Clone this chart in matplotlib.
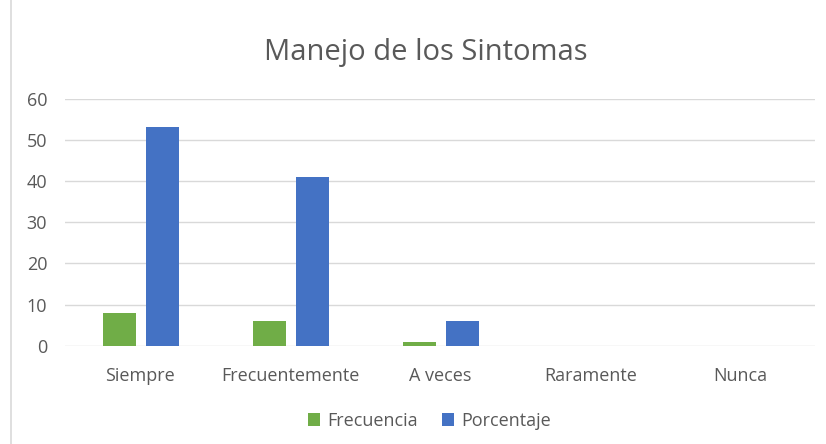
import matplotlib
matplotlib.use("Agg")
import matplotlib.pyplot as plt
import numpy as np

categories = ["Siempre", "Frecuentemente", "A veces", "Raramente", "Nunca"]
frecuencia = [8, 6, 1, 0, 0]
porcentaje = [53, 41, 6, 0, 0]

GREEN = "#70ad47"
BLUE = "#4472c4"
TEXT = "#595959"
GRID = "#d9d9d9"

plt.rcParams["font.family"] = ["Open Sans", "DejaVu Sans"]

fig = plt.figure(figsize=(8.26, 4.44), dpi=100)
ax = fig.add_axes([0.079, 0.221, 0.908, 0.557])

x = np.arange(len(categories))
w = 0.22
ax.bar(x - 0.138, frecuencia, w, color=GREEN, label="Frecuencia", zorder=3)
ax.bar(x + 0.145, porcentaje, w, color=BLUE, label="Porcentaje", zorder=3)

ax.set_xlim(-0.5, len(categories) - 0.5)
ax.set_ylim(0, 60)
ax.set_yticks(range(0, 61, 10))
ax.set_xticks(x)
ax.set_xticklabels(categories)
ax.tick_params(axis="both", length=0, labelsize=13, colors=TEXT)
ax.tick_params(axis="x", pad=15)
ax.tick_params(axis="y", pad=13)
ax.grid(axis="y", color=GRID, lw=1, zorder=0)
for s in ax.spines.values():
    s.set_visible(False)

fig.text(0.515, 0.882, "Manejo de los Sintomas", ha="center", va="center",
         fontsize=21, color=TEXT)

fig.legend(loc="center", bbox_to_anchor=(0.52, 0.052), ncol=2, frameon=False,
           fontsize=13, labelcolor=TEXT, handlelength=0.7, handleheight=0.7,
           columnspacing=1.3, handletextpad=0.4)

# left edge of the chart frame
fig.add_artist(plt.Line2D([0.013, 0.013], [0, 1], transform=fig.transFigure,
                          color=GRID, lw=1.2))

fig.savefig("out.png", dpi=100)
